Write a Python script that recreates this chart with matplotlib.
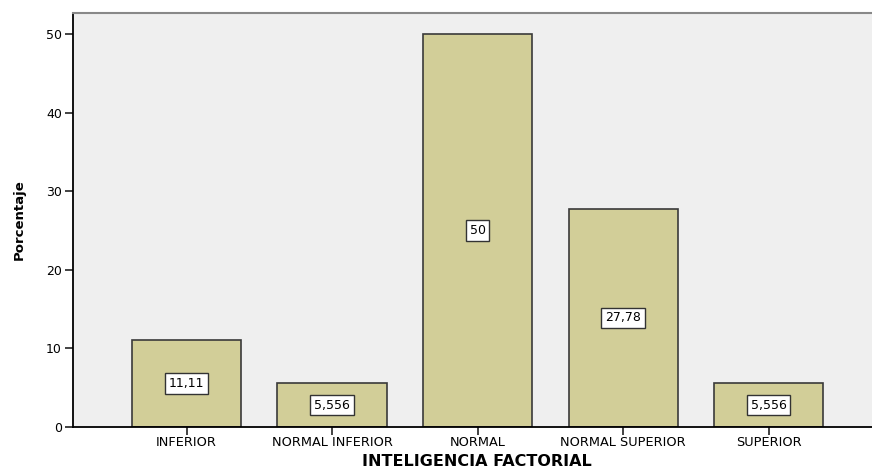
import numpy as np
import matplotlib.pyplot as plt

# datos
categorias = ["INFERIOR", "NORMAL INFERIOR", "NORMAL", "NORMAL SUPERIOR", "SUPERIOR"]
porcentajes = [11.11, 5.556, 50.0, 27.78, 5.556]
etiquetas = ["11,11", "5,556", "50", "27,78", "5,556"]

fig = plt.figure(figsize=(8.72, 4.70), dpi=100)
ax = fig.add_axes([73/872., 1-427/470., 1-73/872., (427-13)/470.])
ax.set_facecolor("#efefef")

x = np.arange(len(categorias))
ax.bar(x, porcentajes, width=0.75, color="#d2ce98", edgecolor="#3a3a3a", linewidth=1.2, zorder=2)

for xi, v, t in zip(x, porcentajes, etiquetas):
	ax.text(xi, v/2., t, ha="center", va="center", fontsize=9, family="DejaVu Sans", zorder=3,
		bbox=dict(boxstyle="square,pad=0.3", fc="white", ec="#333333", lw=1))

ax.set_xlim(-0.78, 4.71)
ax.set_ylim(0, 52.7)
ax.set_yticks([0, 10, 20, 30, 40, 50])
ax.set_xticks(x)
ax.set_xticklabels(categorias, fontsize=9.3, family="DejaVu Sans")
for lab in ax.get_yticklabels():
	lab.set_fontsize(9)
	lab.set_family("DejaVu Sans")
ax.tick_params(axis="both", length=6, width=1.2, color="#222222", pad=2)
ax.tick_params(axis="x", pad=0.5)

ax.spines["right"].set_visible(False)
ax.spines["top"].set_color("#888888")
ax.spines["top"].set_linewidth(1.5)
ax.spines["left"].set_linewidth(1.3)
ax.spines["bottom"].set_linewidth(1.3)

fig.text(477/872., 1-462/470., "INTELIGENCIA FACTORIAL", ha="center", va="center",
	fontsize=11.5, fontweight="bold", family="DejaVu Sans")
fig.text(19/872., 1-220/470., "Porcentaje", ha="center", va="center", rotation=90,
	fontsize=9.5, fontweight="bold", family="Liberation Sans Narrow")

fig.savefig("out.png", dpi=100)
